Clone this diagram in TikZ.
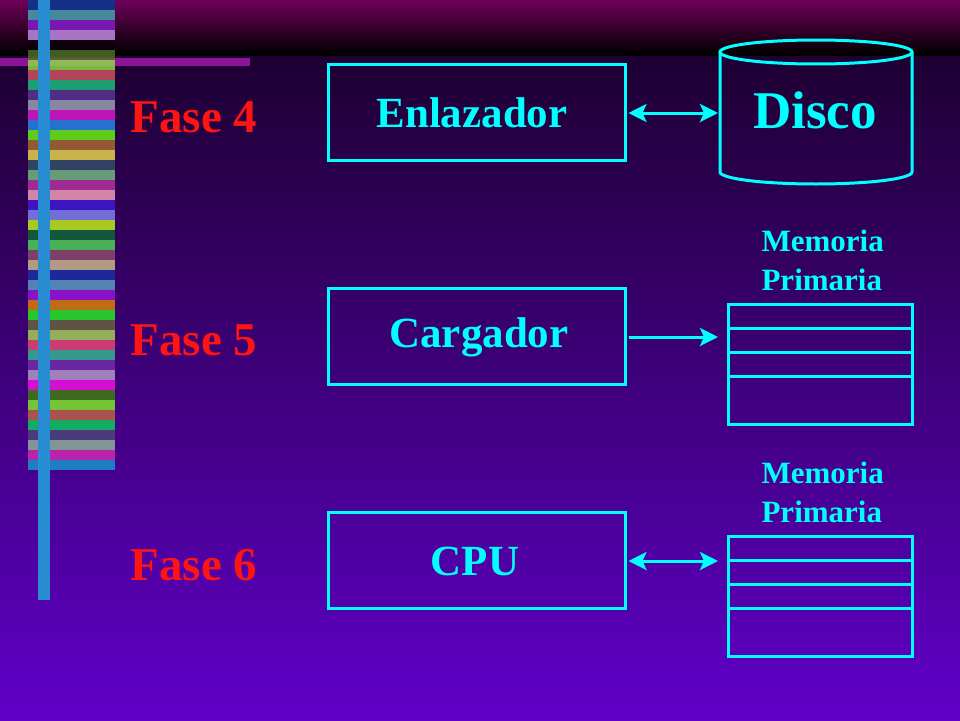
\documentclass[tikz,border=0pt]{standalone}
\usepackage{fontspec}
\setmainfont{Liberation Serif}
\usetikzlibrary{positioning,arrows,arrows.meta,shapes.geometric}
\definecolor{cyanline}{RGB}{0,255,255}
\definecolor{faseRed}{RGB}{255,20,20}
\definecolor{bgTop}{RGB}{30,0,50}
\definecolor{bgBottom}{RGB}{96,0,200}
\definecolor{bandTop}{RGB}{110,0,90}
\definecolor{bandLine}{RGB}{140,20,150}
\definecolor{stripe}{RGB}{40,140,210}
\tikzset{
  box/.style={draw=cyanline,line width=3pt,minimum width=297pt,minimum height=96pt},
  fase/.style={text=faseRed,font=\bfseries\fontsize{47}{50}\selectfont},
  boxtext/.style={text=cyanline,font=\bfseries\fontsize{43}{45}\selectfont},
  memlabel/.style={text=cyanline,font=\bfseries\fontsize{31}{39}\selectfont,align=left},
  link/.style={draw=cyanline,line width=3pt}
}
\begin{document}
\begin{tikzpicture}[x=1pt,y=-1pt,>={Stealth[length=18pt,width=18pt,inset=4pt]}]
    \useasboundingbox (0,0) rectangle (960,720);
    % background
    \shade[top color=bgTop,bottom color=bgBottom] (0,55) rectangle (960,720);
    \shade[top color=bandTop,bottom color=black] (0,0) rectangle (960,55);
    \fill[bandLine] (0,58) rectangle (250,66);
    % left decoration
    \foreach \i in {0,...,46}{
      \pgfmathtruncatemacro{\r}{mod(\i*67,255)}
      \pgfmathtruncatemacro{\g}{mod(\i*113+60,255)}
      \pgfmathtruncatemacro{\b}{mod(\i*29+150,255)}
      \definecolor{blot}{RGB}{\r,\g,\b}
      \fill[blot,opacity=0.8] (28,\i*10) rectangle (115,\i*10+10);
    }
    \fill[stripe] (38,0) rectangle (50,600);
    %
    \node[fase] (f4) at (194,117) {Fase 4};
    \node[fase] (f5) at (194,340) {Fase 5};
    \node[fase] (f6) at (194,565) {Fase 6};
    %
    \node[box] (Enlazador) at (476.5,112) {};
    \node[boxtext] at (472,113) {Enlazador};
    \node[box] (Cargador) at (476.5,336) {};
    \node[boxtext] at (479,337) {Cargador};
    \node[box] (CPU) at (476.5,560) {};
    \node[boxtext] at (475,561) {CPU};
    % disco
    \draw[cyanline,line width=3pt] (720,52) -- (720,172) arc[start angle=180,end angle=0,x radius=96,y radius=12] -- (912,52);
    \draw[cyanline,line width=3pt] (816,52) ellipse[x radius=96,y radius=12];
    \node[text=cyanline,font=\bfseries\fontsize{53}{55}\selectfont] (Disco) at (815,110) {Disco};
    \coordinate (discoW) at (718,113);
    % memorias
    \foreach \y/\n in {304/memA,536/memB}{
      \draw[cyanline,line width=3pt] (728,\y) rectangle (912,\y+120);
      \foreach \k in {24,48,72} \draw[cyanline,line width=3pt] (728,\y+\k) -- (912,\y+\k);
    }
    \coordinate (memA) at (718,337);
    \coordinate (memB) at (718,561);
    \node[memlabel,anchor=west] (lblA) at (758,260) {Memoria\\Primaria};
    \node[memlabel,anchor=west] (lblB) at (758,492) {Memoria\\Primaria};
    %
    \draw[link,<->] (Enlazador.east) ++(2,1) -- (discoW);
    \draw[link,->] (Cargador.east) ++(2,1) -- (memA);
    \draw[link,<->] (CPU.east) ++(2,1) -- (memB);
\end{tikzpicture}
\end{document}
